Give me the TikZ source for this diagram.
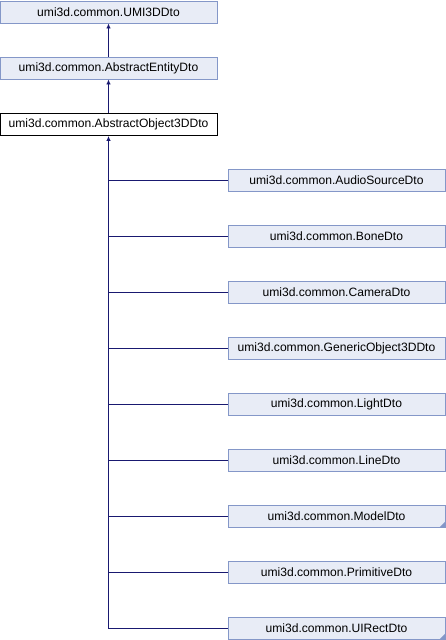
\documentclass[tikz,border=0pt]{standalone}
\usepackage{fontspec}
\setmainfont{Liberation Sans}
\usetikzlibrary{arrows.meta}

\definecolor{boxfill}{HTML}{E8ECF6}
\definecolor{boxline}{HTML}{8497C8}
\definecolor{edgeblue}{HTML}{191970}

\tikzset{
  cls/.style={draw=boxline, fill=boxfill, line width=0.9pt, minimum width=217pt,
    minimum height=22pt, inner sep=0pt, font=\fontsize{12.1}{13}\selectfont},
  current/.style={cls, draw=black, fill=white},
  edge/.style={draw=edgeblue, line width=0.9pt},
  tip/.style={-{Latex[length=5pt,width=4.5pt]}},
}

\begin{document}
\begin{tikzpicture}[x=1pt,y=-1pt]

% canvas
\useasboundingbox (0,0) rectangle (446,640);

% base classes
\node[cls] (umi) at (108.5,12) {umi3d.common.UMI3DDto};
\node[cls] (entity) at (108.5,68) {umi3d.common.AbstractEntityDto};
\node[current] (object) at (108.5,124.5) {umi3d.common.AbstractObject3DDto};

% derived classes
\node[cls] (audio) at (336.5,180) {umi3d.common.AudioSourceDto};
\node[cls] (bone) at (336.5,236) {umi3d.common.BoneDto};
\node[cls] (camera) at (336.5,292) {umi3d.common.CameraDto};
\node[cls] (generic) at (336.5,348) {umi3d.common.GenericObject3DDto};
\node[cls] (light) at (336.5,404) {umi3d.common.LightDto};
\node[cls] (line) at (336.5,460) {umi3d.common.LineDto};
\node[cls] (model) at (336.5,516) {umi3d.common.ModelDto};
\node[cls] (primitive) at (336.5,572) {umi3d.common.PrimitiveDto};
\node[cls] (uirect) at (336.5,628) {umi3d.common.UIRectDto};

% corner marks
\foreach \n in {model,uirect}
  \fill[boxline] ([xshift=-6pt]\n.south east) -- (\n.south east) -- ([yshift=6pt]\n.south east) -- cycle;

% inheritance up the chain
\draw[edge,tip] (entity.north) -- (umi.south);
\draw[edge,tip] (object.north) -- (entity.south);

% trunk with arrow
\draw[edge,tip] (uirect.west) -- (object.south |- uirect.west) -- (object.south);

% branches
\foreach \n in {audio,bone,camera,generic,light,line,model,primitive}
  \draw[edge] (\n.west) -- (object.south |- \n.west);

\end{tikzpicture}
\end{document}
